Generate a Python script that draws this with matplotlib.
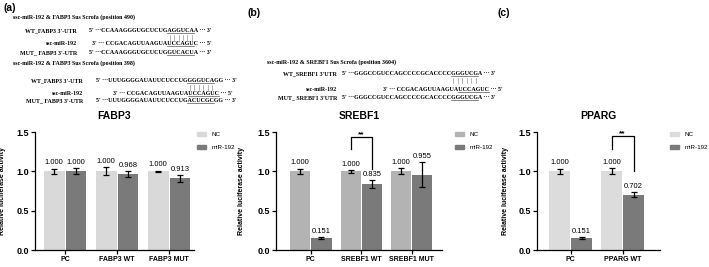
import matplotlib
matplotlib.use('Agg')
from matplotlib import pyplot as plt
from matplotlib.patches import Patch
from matplotlib.lines import Line2D
import numpy as np

# FABP3 luciferase values (NC vs miR-192, mean and SEM)
fabp3_groups = ['PC', 'FABP3 WT', 'FABP3 MUT']
fabp3_nc = [1.000, 1.000, 1.000]
fabp3_nc_err = [0.035, 0.05, 0.01]
fabp3_mir = [1.000, 0.968, 0.913]
fabp3_mir_err = [0.04, 0.035, 0.045]

# SREBF1
srebf1_groups = ['PC', 'SREBF1 WT', 'SREBF1 MUT']
srebf1_nc = [1.000, 1.000, 1.000]
srebf1_nc_err = [0.035, 0.02, 0.04]
srebf1_mir = [0.151, 0.835, 0.955]
srebf1_mir_err = [0.012, 0.05, 0.16]

# PPARG
pparg_groups = ['PC', 'PPARG WT']
pparg_nc = [1.000, 1.000]
pparg_nc_err = [0.035, 0.04]
pparg_mir = [0.151, 0.702]
pparg_mir_err = [0.01, 0.03]

series_names = ['NC', 'miR-192']
yticks = [0.0, 0.5, 1.0, 1.5]

W, H = 709, 267
plt.rcParams['font.family'] = ['Liberation Sans', 'DejaVu Sans']
fig = plt.figure(figsize=(W / 100, H / 100), dpi=100)

DARK = '#7a7a7a'
SERIF = 'Liberation Serif'


def fx(x):
    return x / W


def fy(y):
    return 1 - y / H


def bar_panel(left, right, xlim, groups, nc, nc_err, mir, mir_err, nc_color,
              title, ylab_x, legend_x, sig=None):
    top, bottom = 132, 250
    ax = fig.add_axes([fx(left), fy(bottom), (right - left) / W, (bottom - top) / H])
    x = np.arange(len(groups))
    w, off = 0.4, 0.21
    ekw = dict(elinewidth=0.9, capthick=0.9, ecolor='black')
    ax.bar(x - off, nc, w, color=nc_color, yerr=nc_err, capsize=2.2, error_kw=ekw)
    ax.bar(x + off, mir, w, color=DARK, yerr=mir_err, capsize=2.2, error_kw=ekw)

    # value labels above the error bars
    for xs, vals, errs in [(x - off, nc, nc_err), (x + off, mir, mir_err)]:
        for xi, v, e in zip(xs, vals, errs):
            ax.annotate('%.3f' % v, (xi, v + e), xytext=(0, 1.5), textcoords='offset points',
                        ha='center', va='bottom', fontsize=5.5)

    if sig is not None:
        i, lo_l, hi, lo_r = sig
        ax.plot([i - off, i - off, i + off, i + off], [lo_l, hi, hi, lo_r], color='black',
                lw=0.9, clip_on=False)
        ax.text(i, hi - 0.02, '**', ha='center', va='bottom', fontsize=6, fontweight='bold')

    ax.set_xlim(*xlim)
    ax.set_ylim(0, 1.5)
    ax.set_yticks(yticks)
    ax.set_yticklabels(['%.1f' % t for t in yticks], fontsize=6.5, fontweight='bold')
    ax.set_xticks(x)
    ax.set_xticklabels(groups, fontsize=5, fontweight='bold')
    ax.tick_params(length=3, width=0.9, pad=1.5)
    for s in ['top', 'right']:
        ax.spines[s].set_visible(False)
    for s in ['left', 'bottom']:
        ax.spines[s].set_linewidth(0.9)
    ax.set_ylabel('Relative luciferase activity', fontsize=5, fontweight='bold')
    ax.yaxis.set_label_coords((ylab_x - left) / (right - left), 0.5)
    ax.set_title(title, fontsize=7.5, fontweight='bold', pad=9)

    handles = [Patch(color=nc_color), Patch(color=DARK)]
    fig.legend(handles, series_names, loc='upper left', bbox_to_anchor=(fx(legend_x), fy(132)),
               frameon=False, fontsize=4.5, handlelength=1.5, handleheight=0.55,
               labelspacing=1.3, handletextpad=0.8, borderpad=0, borderaxespad=0)
    return ax


def text_width(s, size):
    t = fig.text(0, 0, s, fontsize=size, family=SERIF, fontweight='bold')
    r = fig.canvas.get_renderer()
    wd = t.get_window_extent(r).width
    t.remove()
    return wd


def seq_line(x, y, label, lab_right, seq, ul=None, size=4.3, bars=False):
    # label right aligned, sequence left aligned, optional underline / pairing bars
    fig.text(fx(lab_right), fy(y), label, fontsize=size, family=SERIF, fontweight='bold',
             ha='right', va='baseline')
    fig.text(fx(x), fy(y), seq, fontsize=size, family=SERIF, fontweight='bold',
             ha='left', va='baseline')
    if ul is None:
        return
    k = seq.find(ul)
    x0 = x + text_width(seq[:k], size)
    x1 = x + text_width(seq[:k + len(ul)], size)
    fig.add_artist(Line2D([fx(x0), fx(x1)], [fy(y + 1.2), fy(y + 1.2)], color='#555555',
                          lw=0.5, transform=fig.transFigure))
    if bars:
        for j in range(len(ul)):
            a = x + text_width(seq[:k + j], size)
            b = x + text_width(seq[:k + j + 1], size)
            c = (a + b) / 2
            fig.add_artist(Line2D([fx(c), fx(c)], [fy(y + 3), fy(y + 8)], color='#777777',
                                  lw=0.4, transform=fig.transFigure))


# panel letters
fig.text(fx(4), fy(8), '(a)', fontsize=7.5, fontweight='bold', va='center')
fig.text(fx(247), fy(13), '(b)', fontsize=7.5, fontweight='bold', va='center')
fig.text(fx(498), fy(13), '(c)', fontsize=7.5, fontweight='bold', va='center')

# FABP3 binding sites
mir_seq = "3' \u00b7\u00b7\u00b7 CCGACAGUUAAGUAUCCAGUC \u00b7\u00b7\u00b7 5'"
fig.text(fx(13), fy(18.5), 'ssc-miR-192 & FABP3 Sus Scrofa (position 490)', fontsize=4.3,
         family=SERIF, fontweight='bold')
seq_line(89, 32, "WT_FABP3 3'-UTR", 77, "5' \u00b7\u00b7\u00b7CCAAAGGGUGCUCUGAGGUCAA \u00b7\u00b7\u00b7 3'",
         'AGGUCA', bars=True)
seq_line(92, 45, 'ssc-miR-192', 77, mir_seq, 'UCCAGU')
seq_line(89, 54, "MUT_ FABP3 3'-UTR", 77, "5' \u00b7\u00b7\u00b7CCAAAGGGUGCUCUGGUCACUA \u00b7\u00b7\u00b7 3'",
         'GUCACU')
fig.text(fx(13), fy(65), 'ssc-miR-192 & FABP3 Sus Scrofa (position 398)', fontsize=4.3,
         family=SERIF, fontweight='bold')
seq_line(96, 82, "WT_FABP3 3'-UTR", 83, "5' \u00b7\u00b7\u00b7UUUGGGGAUAUUCUCCUGGGGUCAGG \u00b7\u00b7\u00b7 3'",
         'GGGUCA', bars=True)
seq_line(113, 95, 'ssc-miR-192', 83, mir_seq, 'UCCAGUC')
seq_line(96, 102, "MUT_ FABP3 3'-UTR", 83, "5' \u00b7\u00b7\u00b7UUUGGGGAUAUUCUCCUGACUCGCGG \u00b7\u00b7\u00b7 3'",
         'ACUCGC')

# SREBF1 binding site
fig.text(fx(267), fy(64), 'ssc-miR-192 & SREBF1 Sus Scrofa (position 3604)', fontsize=4.3,
         family=SERIF, fontweight='bold')
seq_line(342, 75, "WT_SREBF1 3'UTR", 337, "5' \u00b7\u00b7\u00b7GGGCCGUCCAGCCCCGCACCCCGGGUCGA \u00b7\u00b7\u00b7 3'",
         'GGGUCG', bars=True)
seq_line(383, 91, 'ssc-miR-192', 337, mir_seq, 'UCCAGUC')
seq_line(342, 99, "MUT_ SREBF1 3'UTR", 337, "5' \u00b7\u00b7\u00b7GGGCCGUCCAGCCCCGCACCCCGGGUCGA \u00b7\u00b7\u00b7 3'",
         'GGGUCG')

bar_panel(35, 194, (-0.58, 2.48), fabp3_groups, fabp3_nc, fabp3_nc_err, fabp3_mir, fabp3_mir_err,
          '#d9d9d9', 'FABP3', 6, 197)
bar_panel(276, 442, (-0.69, 2.6), srebf1_groups, srebf1_nc, srebf1_nc_err, srebf1_mir,
          srebf1_mir_err, '#b3b3b3', 'SREBF1', 245, 455, sig=(1, 1.29, 1.44, 1.03))
bar_panel(537, 660, (-0.65, 1.72), pparg_groups, pparg_nc, pparg_nc_err, pparg_mir, pparg_mir_err,
          '#dcdcdc', 'PPARG', 509, 670, sig=(1, 1.28, 1.45, 1.01))

fig.savefig('out.png', dpi=100)
